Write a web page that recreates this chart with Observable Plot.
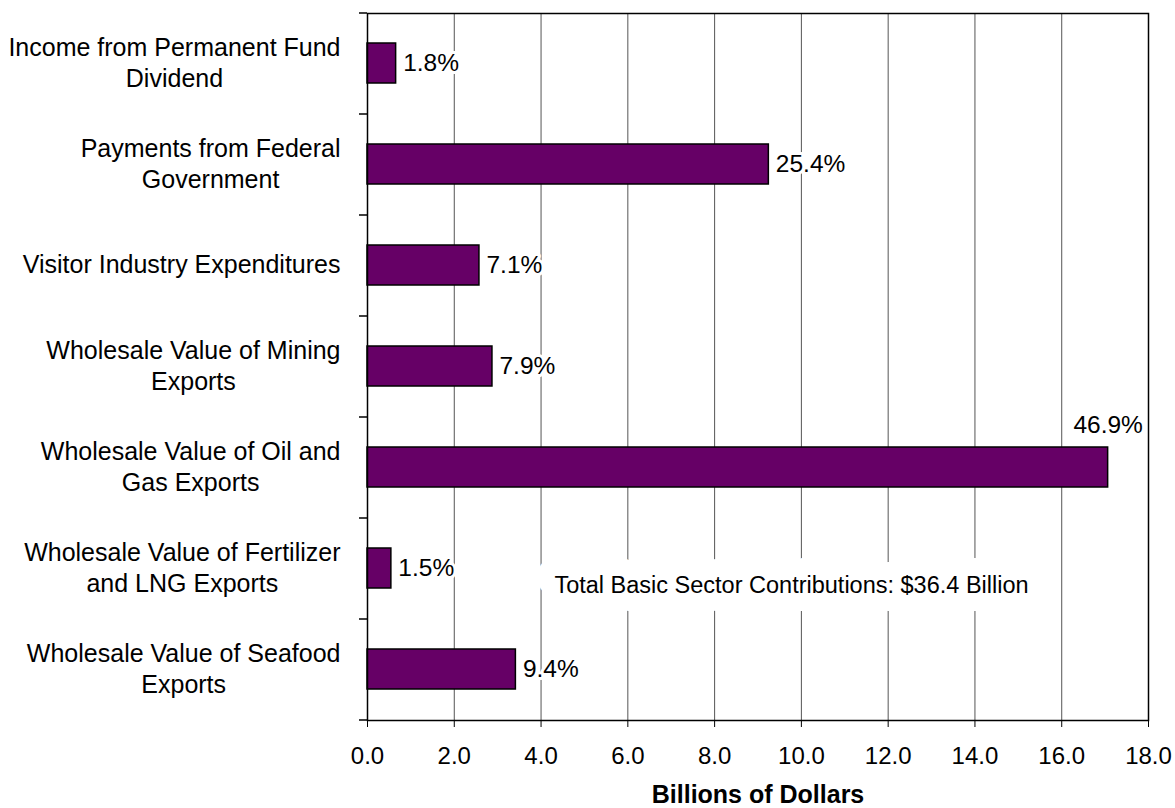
<!DOCTYPE html>
<html>
<head>
<meta charset="utf-8">
<script src="https://cdn.jsdelivr.net/npm/d3@7"></script>
<script src="https://cdn.jsdelivr.net/npm/@observablehq/plot@0.6"></script>
<style>
  html, body { margin: 0; padding: 0; background: #fff; }
  #chart svg { display: block; }
</style>
</head>
<body>
<div id="chart"></div>
<script>
// ---- data ----
const categories = [
  "Income from Permanent Fund\nDividend",
  "Payments from Federal\nGovernment",
  "Visitor Industry Expenditures",
  "Wholesale Value of Mining\nExports",
  "Wholesale Value of Oil and\nGas Exports",
  "Wholesale Value of Fertilizer\nand LNG Exports",
  "Wholesale Value of Seafood\nExports"
];
const values = [0.66, 9.25, 2.58, 2.88, 17.07, 0.55, 3.42]; // billions of dollars
const pctLabels = ["1.8%", "25.4%", "7.1%", "7.9%", "46.9%", "1.5%", "9.4%"];
const xTicks = [0, 2, 4, 6, 8, 10, 12, 14, 16, 18];
const annotationText = "Total Basic Sector Contributions: $36.4 Billion";
const annotationCategory = categories[5];
const axisTitle = "Billions of Dollars";

// ---- build ----
const data = categories.map((c, i) => ({cat: c, value: values[i], pct: pctLabels[i]}));
const W = 1175, H = 808, mL = 367, mR = 27, mT = 13, mB = 88;
const pInner = 0.6, pOuter = 0.3;
const step = (H - mT - mB) / (categories.length - pInner + 2 * pOuter);
const bandwidth = step * (1 - pInner);
const maxV = d3.max(values);
const fontFam = "'Liberation Sans', Arial, Helvetica, sans-serif";
const ctx = document.createElement("canvas").getContext("2d");
ctx.font = "25px 'Liberation Sans', Arial, sans-serif";
const blockWidth = c => d3.max(c.split("\n"), l => ctx.measureText(l).width);

const yLabelMarks = categories.map(c => Plot.text([c], {
  y: d => d, text: d => d, frameAnchor: "left", textAnchor: "middle",
  dx: -27 - blockWidth(c) / 2, dy: -2, fontSize: 25, lineHeight: 1.23, fill: "black"
}));

const chart = Plot.plot({
  width: W, height: H,
  marginLeft: mL, marginRight: mR, marginTop: mT, marginBottom: mB,
  style: {fontFamily: fontFam, fontSize: "24px", color: "black", background: "white", overflow: "visible"},
  x: {domain: [0, 18], ticks: xTicks, tickFormat: d3.format(".1f"), tickSize: 7, tickPadding: 19, label: null},
  y: {domain: categories, paddingInner: pInner, paddingOuter: pOuter, axis: null},
  marks: [
    Plot.ruleX(xTicks.filter(t => t > 0 && t < 18), {stroke: "#555", strokeWidth: 1}),
    Plot.barX(data, {x: "value", y: "cat", fill: "#660066", stroke: "black", strokeWidth: 1.5}),
    Plot.text(data.filter(d => d.value !== maxV), {
      x: "value", y: "cat", text: "pct", textAnchor: "start", dx: 7, fontSize: 24.5,
      fill: "black", stroke: "white", strokeWidth: 6, paintOrder: "stroke"
    }),
    Plot.text(data.filter(d => d.value === maxV), {
      x: "value", y: "cat", text: "pct", textAnchor: "middle", lineAnchor: "bottom",
      dy: -(bandwidth / 2 + 14.5), fontSize: 24.5,
      fill: "black", stroke: "white", strokeWidth: 6, paintOrder: "stroke"
    }),
    Plot.text([annotationText], {
      y: () => annotationCategory, text: d => d, frameAnchor: "right", textAnchor: "middle",
      dx: -357, dy: 17, fontSize: 23.5, fill: "black",
      stroke: "white", strokeWidth: 36, strokeLinejoin: "round", paintOrder: "stroke"
    }),
    Plot.frame({stroke: "black", strokeWidth: 1.5}),
    Plot.ruleY(categories, {y: d => d, x1: 0, x2: 0, insetLeft: -8, dy: -step / 2, stroke: "black", strokeWidth: 1.5}),
    Plot.ruleY([categories[categories.length - 1]], {y: d => d, x1: 0, x2: 0, insetLeft: -8, dy: step / 2, stroke: "black", strokeWidth: 1.5}),
    ...yLabelMarks,
    Plot.text([axisTitle], {
      text: d => d, frameAnchor: "bottom", lineAnchor: "bottom", dy: 82,
      fontWeight: "bold", fontSize: 25, fill: "black"
    })
  ]
});
document.getElementById("chart").append(chart);
</script>
</body>
</html>
